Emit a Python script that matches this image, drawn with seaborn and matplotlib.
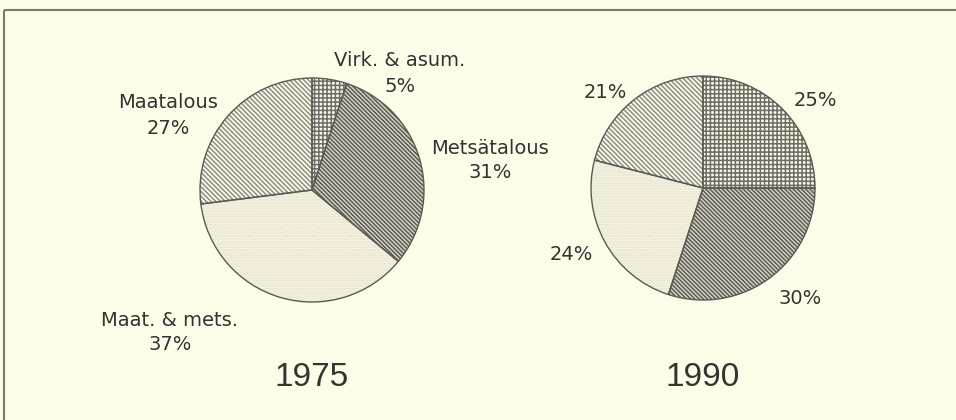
import matplotlib
matplotlib.use("Agg")
import matplotlib.pyplot as plt
import seaborn as sns
from matplotlib.patches import Rectangle

# shares by sector, clockwise from the top
sectors = ["Virk. & asum.", "Metsätalous", "Maat. & mets.", "Maatalous"]
share_1975 = [5, 31, 37, 27]
share_1990 = [25, 30, 24, 21]
years = ["1975", "1990"]

sns.set_theme(style="white")
plt.rcParams["font.family"] = ["DejaVu Sans"]
plt.rcParams["hatch.linewidth"] = 1.1

bg = "#fdfce9"
ink = "#333330"

# fill styles per sector: (face, hatch, hatch colour)
styles = [
    ("#fbfae6", "++++", "#6e6d66"),
    ("#d8d6c4", "\\" * 8, "#5c5c56"),
    ("#f7f5e2", "......", "#e3e1cd"),
    ("#fdfce9", "\\" * 7, "#8e8d84"),
]

fig = plt.figure(figsize=(9.56, 4.2), dpi=100, facecolor=bg)
ax = fig.add_axes([0, 0, 1, 1])
ax.set_facecolor(bg)

centers = [(312, 190), (703, 188)]
radius = 112

# y axis runs downwards, so -90 is the top and counterclock draws clockwise
for vals, c in zip([share_1975, share_1990], centers):
    wedges, _ = ax.pie(vals, startangle=-90, counterclock=True, center=c,
                       radius=radius, wedgeprops=dict(linewidth=0))
    for w, (face, hatch, hcol) in zip(wedges, styles):
        w.set_facecolor(face)
        w.set_edgecolor(hcol)
        w.set_hatch(hatch)
    # outlines on top
    ax.pie(vals, startangle=-90, counterclock=True, center=c, radius=radius,
           wedgeprops=dict(fill=False, edgecolor="#5a5a55", linewidth=1.0))

ax.set_xlim(0, 956)
ax.set_ylim(420, 0)
ax.set_aspect("equal")
ax.axis("off")

# frame around the panel
ax.add_patch(Rectangle((4, 10), 1000, 500, fill=False, edgecolor="#7a7a75",
                       linewidth=1.5))

lab_1975 = [(400, 60, 400, 87), (490, 148, 490, 172), (170, 320, 170, 344),
            (168, 102, 168, 129)]
for name, v, (x1, y1, x2, y2) in zip(sectors, share_1975, lab_1975):
    ax.text(x1, y1, name, ha="center", va="center", fontsize=14, color=ink)
    ax.text(x2, y2, f"{v}%", ha="center", va="center", fontsize=14, color=ink)

lab_1990 = [(815, 101), (800, 298), (571, 254), (605, 92)]
for v, (x, y) in zip(share_1990, lab_1990):
    ax.text(x, y, f"{v}%", ha="center", va="center", fontsize=14, color=ink)

for yr, c in zip(years, centers):
    ax.text(c[0], 378, yr, ha="center", va="center", fontsize=24,
            color=ink, family="Liberation Sans")

fig.savefig("out.png", dpi=100, facecolor=bg)
